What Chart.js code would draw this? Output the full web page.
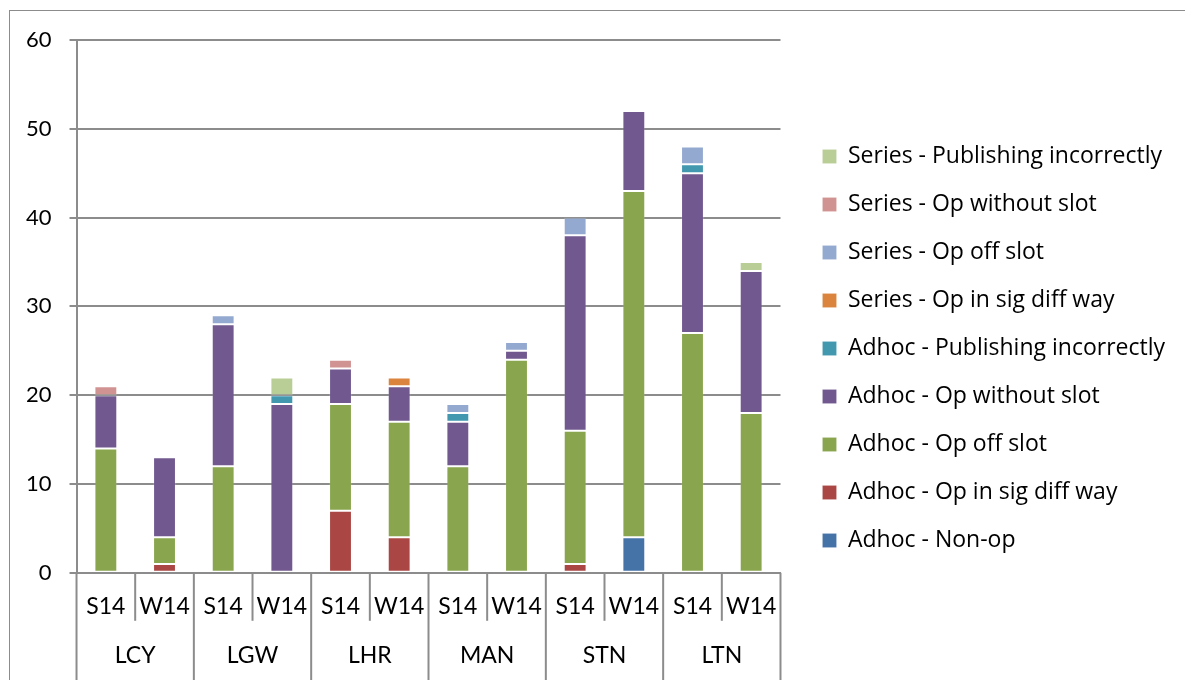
<!DOCTYPE html>
<html>
<head>
<meta charset="utf-8">
<script src="https://cdn.jsdelivr.net/npm/chart.js@4"></script>
<style>
  body { margin: 0; background: #fff; }
  #wrap { position: relative; width: 1185px; height: 680px; overflow: hidden; }
  #frame { position: absolute; left: 9px; top: 10px; width: 1300px; height: 800px; border-left: 1.5px solid #8c8c8c; border-top: 1.5px solid #8c8c8c; }
  canvas { position: absolute; left: 0; top: 0; }
</style>
</head>
<body>
<div id="wrap">
  <div id="frame"></div>
  <canvas id="myChart" width="1185" height="680"></canvas>
</div>
<script>
// x axis: season per airport
let seasons = ['S14', 'W14', 'S14', 'W14', 'S14', 'W14', 'S14', 'W14', 'S14', 'W14', 'S14', 'W14'];
let airports = ['LCY', 'LGW', 'LHR', 'MAN', 'STN', 'LTN'];
let yTicks = [0, 10, 20, 30, 40, 50, 60];

// series, bottom of the stack first
let adhocNonOp =        [0, 0, 0, 0, 0, 0, 0, 0, 0, 4, 0, 0];
let adhocSigDiff =      [0, 1, 0, 0, 7, 4, 0, 0, 1, 0, 0, 0];
let adhocOffSlot =      [14, 3, 12, 0, 12, 13, 12, 24, 15, 39, 27, 18];
let adhocWithoutSlot =  [6, 9, 16, 19, 4, 4, 5, 1, 22, 9, 18, 16];
let adhocPublishing =   [0, 0, 0, 1, 0, 0, 1, 0, 0, 0, 1, 0];
let seriesSigDiff =     [0, 0, 0, 0, 0, 1, 0, 0, 0, 0, 0, 0];
let seriesOffSlot =     [0, 0, 1, 0, 0, 0, 1, 1, 2, 0, 2, 0];
let seriesWithoutSlot = [1, 0, 0, 0, 1, 0, 0, 0, 0, 0, 0, 0];
let seriesPublishing =  [0, 0, 0, 2, 0, 0, 0, 0, 0, 0, 0, 1];

let seriesNames = [
  'Adhoc - Non-op',
  'Adhoc - Op in sig diff way',
  'Adhoc - Op off slot',
  'Adhoc - Op without slot',
  'Adhoc - Publishing incorrectly',
  'Series - Op in sig diff way',
  'Series - Op off slot',
  'Series - Op without slot',
  'Series - Publishing incorrectly'
];
let seriesData = [adhocNonOp, adhocSigDiff, adhocOffSlot, adhocWithoutSlot, adhocPublishing,
  seriesSigDiff, seriesOffSlot, seriesWithoutSlot, seriesPublishing];
let colours = ['#4572A7', '#AA4643', '#89A54E', '#71588F', '#4198AF', '#DB843D', '#93A9CF', '#D19392', '#B9CD96'];

let axisFont = 'Lato, "Liberation Sans", sans-serif';
let legendFont = '"Open Sans", "Liberation Sans", sans-serif';
let lineGrey = '#8c8c8c';

// separator lines under the category axis (season lines short, airport lines to the bottom)
let separators = {
  id: 'separators',
  afterDraw(chart) {
    let x = chart.scales.x;
    let n = seasons.length;
    let c = chart.ctx;
    c.save();
    c.strokeStyle = lineGrey;
    c.lineWidth = 2;
    for (let i = 0; i <= n; i++) {
      let px;
      if (i === 0) px = x.left;
      else if (i === n) px = x.right;
      else px = (x.getPixelForValue(i - 1) + x.getPixelForValue(i)) / 2;
      let bottom = i % 2 === 0 ? chart.height : x.top + 48;
      c.beginPath();
      c.moveTo(px, x.top);
      c.lineTo(px, bottom);
      c.stroke();
    }
    c.restore();
  }
};

let ctx = document.getElementById('myChart').getContext('2d');

let stackChart = new Chart(ctx, {
  type: 'bar',
  data: {
    labels: seasons,
    datasets: seriesNames.map((name, i) => ({
      label: name,
      data: seriesData[i],
      backgroundColor: colours[i],
      borderColor: 'rgba(255,255,255,0.15)',
      borderWidth: 1,
      borderSkipped: false,
      barPercentage: 0.39,
      categoryPercentage: 1
    }))
  },
  options: {
    responsive: false,
    animation: false,
    layout: { padding: { left: 8, top: 27, right: 10, bottom: 10 } },
    scales: {
      x: {
        stacked: true,
        weight: 0,
        grid: { display: false, drawTicks: false },
        border: { color: lineGrey, width: 2 },
        ticks: { color: '#000', font: { family: axisFont, size: 23 }, padding: 20, maxRotation: 0, autoSkip: false }
      },
      x2: {
        type: 'category',
        labels: airports,
        position: 'bottom',
        weight: 1,
        grid: { display: false, drawTicks: false },
        border: { display: false },
        ticks: { color: '#000', font: { family: axisFont, size: 23 }, padding: 1, maxRotation: 0, autoSkip: false }
      },
      y: {
        stacked: true,
        min: 0,
        max: 60,
        afterBuildTicks: axis => { axis.ticks = yTicks.map(v => ({ value: v })); },
        grid: { color: lineGrey, lineWidth: 2, tickLength: 7 },
        border: { color: lineGrey, width: 2 },
        ticks: { color: '#000', font: { family: axisFont, size: 22 }, padding: 18 }
      },
      gapTop: {
        type: 'linear',
        position: 'top',
        min: 0,
        max: 1,
        grid: { display: false },
        border: { display: false },
        ticks: { display: false },
        afterFit: s => { s.height = 13; }
      },
      gapRight: {
        type: 'linear',
        position: 'right',
        min: 0,
        max: 1,
        grid: { display: false },
        border: { display: false },
        ticks: { display: false },
        afterFit: s => { s.width = 17; }
      }
    },
    plugins: {
      legend: {
        position: 'right',
        reverse: true,
        maxWidth: 420,
        labels: {
          color: '#000',
          boxWidth: 14,
          boxHeight: 14,
          padding: 25,
          font: { family: legendFont, size: 23 }
        }
      },
      tooltip: { enabled: false }
    }
  },
  plugins: [separators]
});
</script>
</body>
</html>
